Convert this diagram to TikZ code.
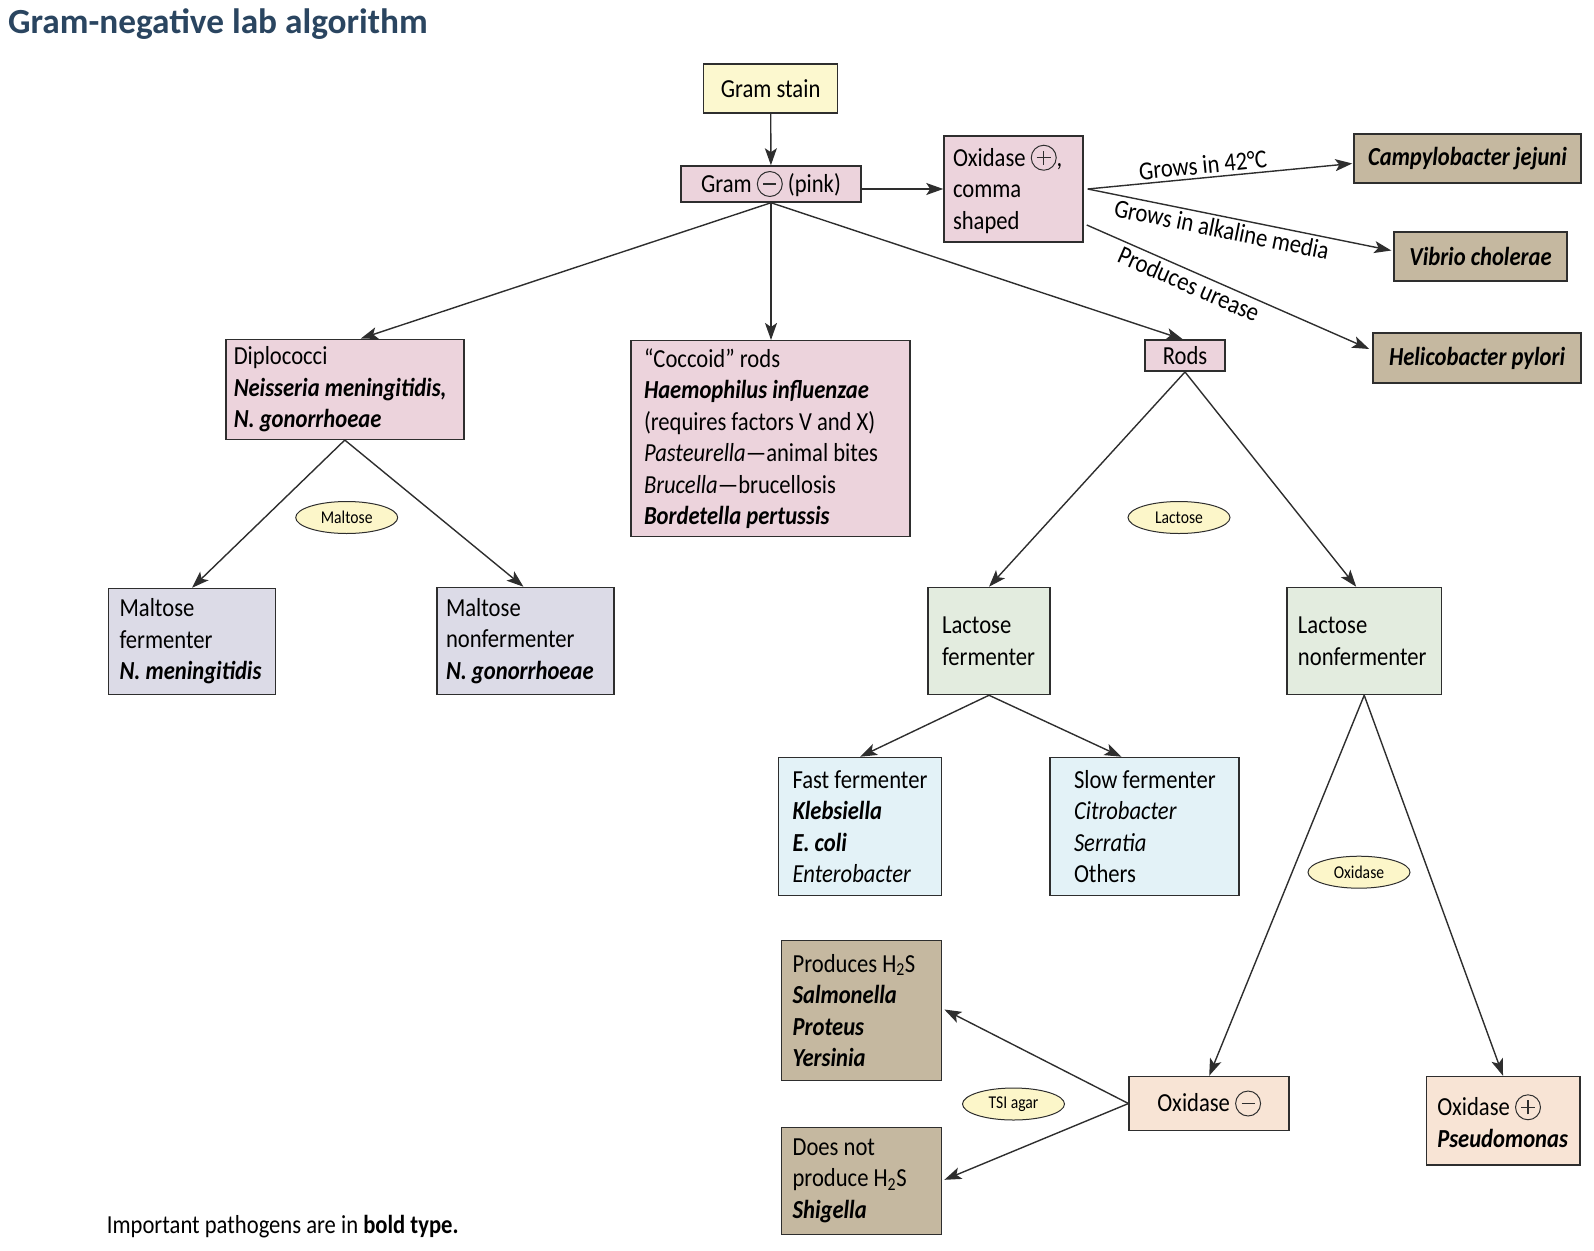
\documentclass[tikz,border=0pt]{standalone}
\usepackage{fontspec}
\setmainfont{Carlito}[FakeStretch=0.87]
\newfontfamily\titlefont{Carlito}
\usetikzlibrary{arrows.meta,shapes.geometric,calc}
\definecolor{bordc}{HTML}{2E2E2E}
\definecolor{cyel}{HTML}{FCF8CF}
\definecolor{cpink}{HTML}{ECD3DC}
\definecolor{ctan}{HTML}{C5B8A0}
\definecolor{clav}{HTML}{DCDBE7}
\definecolor{cgreen}{HTML}{E3ECDF}
\definecolor{cblue}{HTML}{E3F2F7}
\definecolor{cpeach}{HTML}{F8E4D5}
\definecolor{cell}{HTML}{FCF6C9}
\definecolor{ctitle}{HTML}{2A4560}
\newcommand\bodyfont{\fontsize{26}{31.5}\selectfont}
\newcommand\pth[1]{\textbf{\textit{#1}}}
\newcommand\cplus{\tikz[baseline=0pt]{\draw[line width=1pt,bordc] (0pt,0.32em) circle[radius=0.48em]; \draw[line width=1.1pt,bordc] (-0.27em,0.32em)--(0.27em,0.32em) (0pt,0.05em)--(0pt,0.59em);}}
\newcommand\cminus{\tikz[baseline=0pt]{\draw[line width=1pt,bordc] (0pt,0.32em) circle[radius=0.48em]; \draw[line width=1.1pt,bordc] (-0.25em,0.32em)--(0.25em,0.32em);}}
\tikzset{
  bx/.style={draw=bordc, line width=1.5pt, inner sep=0pt, font=\bodyfont, align=center},
  lbx/.style={draw=bordc, line width=1.5pt, inner ysep=0pt, font=\bodyfont, align=left,
    execute at begin node={\spaceskip=0pt\xspaceskip=0pt}},
  ell/.style={ellipse, draw=bordc, fill=cell, line width=1pt, inner sep=0pt,
    minimum width=102pt, minimum height=32pt, font=\fontsize{18}{20}\selectfont},
  arr/.style={draw=bordc, line width=1.4pt, -{Stealth[length=17pt,width=12pt,inset=4pt]}},
  lbl/.style={font=\bodyfont, inner sep=3pt}
}
\begin{document}
\begin{tikzpicture}[x=1pt,y=-1pt]
\useasboundingbox (0,0) rectangle (1594,1250);
\node[anchor=base west, inner sep=0pt, text=ctitle, font=\titlefont\fontsize{35.3}{40}\selectfont\bfseries] (title) at (8,33.5) {Gram-negative lab algorithm};

\node[bx, fill=cyel, minimum width=134pt, minimum height=49pt] (gs) at (770.6,88.4) {Gram stain};
\node[bx, fill=cpink, minimum width=180pt, minimum height=36pt] (gneg) at (771,184) {Gram \cminus{} (pink)};
\node[lbx, fill=cpink, minimum width=139pt, minimum height=106pt, text width=121pt, inner xsep=9pt] (oxc) at (1013.5,189) {\mbox{Oxidase \cplus,}\\comma\\shaped};

\node[bx, fill=ctan, minimum width=227pt, minimum height=49pt] (campy) at (1467.5,158.5) {\pth{Campylobacter jejuni}};
\node[bx, fill=ctan, minimum width=173pt, minimum height=49pt] (vib) at (1480.5,256.5) {\pth{Vibrio cholerae}};
\node[bx, fill=ctan, minimum width=208pt, minimum height=50pt] (hel) at (1477,358) {\pth{Helicobacter pylori}};

\node[bx, fill=cpink, minimum width=80pt, minimum height=31pt] (rods) at (1185,355.7) {Rods};

\node[lbx, fill=cpink, minimum width=238pt, minimum height=100pt, text width=222pt, inner xsep=8pt] (dip) at (344.8,389.3)
  {Diplococci\\\mbox{\pth{Neisseria meningitidis,}}\\\mbox{\pth{N. gonorrhoeae}}};
\node[lbx, fill=cpink, minimum width=279pt, minimum height=196pt, text width=253pt, inner xsep=13pt] (cocc) at (770.5,438.7)
  {\mbox{“Coccoid” rods}\\\mbox{\pth{Haemophilus influenzae}}\\\mbox{(requires factors V and X)}\\\mbox{\textit{Pasteurella}—animal bites}\\\mbox{\textit{Brucella}—brucellosis}\\\mbox{\pth{Bordetella pertussis}}};

\node[lbx, fill=clav, minimum width=167pt, minimum height=106pt, text width=145pt, inner xsep=11pt] (mf) at (192.1,641.5)
  {Maltose\\fermenter\\\mbox{\pth{N. meningitidis}}};
\node[lbx, fill=clav, minimum width=177pt, minimum height=107pt, text width=159pt, inner xsep=9pt] (mnf) at (525.5,641)
  {Maltose\\nonfermenter\\\mbox{\pth{N. gonorrhoeae}}};

\node[lbx, fill=cgreen, minimum width=122pt, minimum height=107pt, text width=94pt, inner xsep=14pt] (lf) at (989,641)
  {Lactose\\fermenter};
\node[lbx, fill=cgreen, minimum width=154.5pt, minimum height=107pt, text width=132.5pt, inner xsep=11pt] (lnf) at (1364.2,641)
  {Lactose\\nonfermenter};

\node[lbx, fill=cblue, minimum width=163pt, minimum height=138pt, text width=135pt, inner xsep=14pt] (ff) at (860,826.5)
  {\mbox{Fast fermenter}\\\pth{Klebsiella}\\\mbox{\pth{E. coli}}\\\textit{Enterobacter}};
\node[lbx, fill=cblue, minimum width=189pt, minimum height=138pt, text width=141pt, inner xsep=24pt] (sf) at (1144.5,826.5)
  {\mbox{Slow fermenter}\\\textit{Citrobacter}\\\textit{Serratia}\\Others};

\node[lbx, fill=ctan, minimum width=160pt, minimum height=140pt, text width=138pt, inner xsep=11pt] (h2s) at (861.6,1010.5)
  {\mbox{Produces H\textsubscript{2}S}\\\pth{Salmonella}\\\pth{Proteus}\\\pth{Yersinia}};
\node[lbx, fill=ctan, minimum width=160pt, minimum height=107pt, text width=138pt, inner xsep=11pt] (noh2s) at (861.6,1180.8)
  {\mbox{Does not}\\\mbox{produce H\textsubscript{2}S}\\\pth{Shigella}};

\node[bx, fill=cpeach, minimum width=160pt, minimum height=54pt] (oxn) at (1209.2,1103.5) {Oxidase \cminus};
\node[lbx, fill=cpeach, minimum width=153.5pt, minimum height=88.5pt, text width=131.5pt, inner xsep=11pt] (oxp) at (1503,1120.8)
  {\mbox{Oxidase \cplus}\\\pth{Pseudomonas}};

\node[ell] (malt) at (346.7,517.5) {Maltose};
\node[ell] (lact) at (1179,517.5) {Lactose};
\node[ell] (oxe) at (1359,872.2) {Oxidase};
\node[ell] (tsi) at (1013.5,1104) {TSI agar};

\node[anchor=base west, inner sep=0pt, font=\bodyfont] (foot) at (106.7,1233) {Important pathogens are in \textbf{bold type.}};

\coordinate (o1) at ($(oxc.east)+(4,0)$);
\coordinate (o2) at ($(oxc.east)+(3,36)$);

\draw[arr] (gs) -- (gneg);
\draw[arr] (gneg.east |- oxc.west) -- (oxc.west);
\draw[arr] (o1) -- node[lbl, sloped, above, pos=0.44] {Grows in 42°C} ($(campy.west)+(-1,5)$);
\draw[arr] (o1) -- node[lbl, sloped, below, pos=0.45] {Grows in alkaline media} ($(vib.west)+(-2,-6)$);
\draw[arr] (o2) -- node[lbl, sloped, below, pos=0.38] {Produces urease} ($(hel.west)+(-3,-9)$);

\draw[arr] (gneg.south) -- ($(dip.north)+(16,0)$);
\draw[arr] (gneg.south) -- (gneg.south |- cocc.north);
\draw[arr] (gneg.south) -- ($(rods.north)+(-2,0)$);
\draw[arr] (dip.south) -- (mf.north);
\draw[arr] (dip.south) -- ($(mnf.north)+(-2,0)$);
\draw[arr] (rods.south) -- (lf.north);
\draw[arr] (rods.south) -- ($(lnf.north)+(-8,0)$);
\draw[arr] (lf.south) -- (ff.north);
\draw[arr] (lf.south) -- ($(sf.north)+(-23,0)$);
\draw[arr] (lnf.south) -- (oxn.north);
\draw[arr] (lnf.south) -- (oxp.north);
\draw[arr] (oxn.west) -- ($(h2s.east)+(2,-1)$);
\draw[arr] (oxn.west) -- ($(noh2s.east)+(2,-1)$);
\end{tikzpicture}
\end{document}
